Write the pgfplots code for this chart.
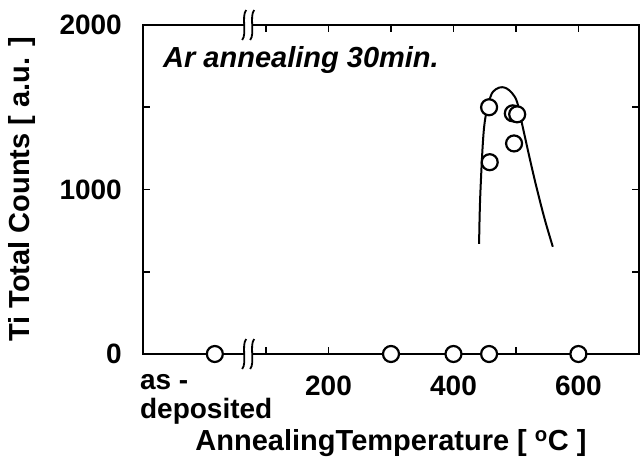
\documentclass[border=0pt]{standalone}
\usepackage{fontspec}
\setmainfont{Liberation Sans}
\usepackage{pgfplots}
\pgfplotsset{compat=1.18}

\pgfplotsset{
  frame/.style={
    scale only axis,
    width=496pt, height=329pt,
    xmin=-97, xmax=697,
    ymin=0, ymax=2000,
    clip=false,
  },
}

\begin{document}
\begin{tikzpicture}
\begin{axis}[
  frame,
  axis line style={line width=2.4pt},
  xtick={100,200,...,600},
  xticklabels={,200,,400,,600},
  ytick={0,500,...,2000},
  yticklabels={0,,1000,,2000},
  tick style={line width=1.8pt, black},
  major tick length=7pt,
  tick align=inside,
  /pgf/number format/assume math mode=true,
  tick label style={font=\bfseries\fontsize{28}{29}\selectfont, inner sep=0pt},
  xticklabel style={anchor=north, yshift=-22pt},
  yticklabel style={anchor=east, xshift=-21pt},
]
  % fitted curve
  \addplot[line width=2pt, smooth, tension=0.55] coordinates {
    (441,670) (443,975) (449,1378) (459,1561) (468,1610) (478,1622)
    (486,1612) (494,1585) (502,1530) (511,1378) (522,1190) (533,1012)
    (546,820) (559,652)
  };
  \coordinate (ll) at (rel axis cs:0,0);
  \coordinate (ur) at (rel axis cs:1,1);
\end{axis}

% second axis on top: marks, axis breaks and texts over the axis lines
\begin{axis}[frame, hide axis]
  \addplot[only marks, mark=*, mark size=8pt,
    mark options={line width=2.2pt, fill=white, draw=black}] coordinates {
    (18,0) (300,0) (400,0) (457,0) (600,0)
    (457,1500) (458,1166) (495,1463) (502,1457) (497,1280)
  };

  % axis breaks (bottom)
  \fill[white] ([shift={(-4pt,-3pt)}]axis cs:73,0) rectangle ([shift={(4pt,3pt)}]axis cs:73,0);
  \draw[line width=1.8pt] ([shift={(-7pt,-15pt)}]axis cs:73,0)
    .. controls +(5pt,6pt) and +(-5pt,-6pt) .. ([shift={(-3pt,15pt)}]axis cs:73,0);
  \draw[line width=1.8pt] ([shift={(1pt,-15pt)}]axis cs:73,0)
    .. controls +(5pt,6pt) and +(-5pt,-6pt) .. ([shift={(5pt,15pt)}]axis cs:73,0);
  % axis breaks (top)
  \fill[white] ([shift={(-4pt,-3pt)}]axis cs:73,2000) rectangle ([shift={(4pt,3pt)}]axis cs:73,2000);
  \draw[line width=1.8pt] ([shift={(-7pt,-15pt)}]axis cs:73,2000)
    .. controls +(5pt,6pt) and +(-5pt,-6pt) .. ([shift={(-3pt,15pt)}]axis cs:73,2000);
  \draw[line width=1.8pt] ([shift={(1pt,-15pt)}]axis cs:73,2000)
    .. controls +(5pt,6pt) and +(-5pt,-6pt) .. ([shift={(5pt,15pt)}]axis cs:73,2000);

  \node[anchor=north west, align=left, inner sep=0pt,
    font=\bfseries\fontsize{28}{29}\selectfont]
    at (axis cs:-102,0) [yshift=-20pt] {as -\\deposited};
  \node[anchor=base west, inner sep=0pt,
    font=\bfseries\itshape\fontsize{29}{30}\selectfont]
    at (axis cs:-65,1739) {Ar annealing 30min.};

  % axis labels
  \node[font=\bfseries\fontsize{29}{30}\selectfont, inner sep=0pt]
    at ([yshift=-89pt]rel axis cs:0.5,0) {AnnealingTemperature [ \textsuperscript{o}C ]};
  \node[font=\bfseries\fontsize{29}{30}\selectfont, inner sep=0pt, rotate=90]
    at ([xshift=-121pt]rel axis cs:0,0.5) {Ti Total Counts [ a.u. ]};
\end{axis}
\pgfresetboundingbox
\path[use as bounding box] ([shift={(-143pt,-109pt)}]ll) rectangle ([shift={(1pt,25pt)}]ur);
\end{tikzpicture}
\end{document}
